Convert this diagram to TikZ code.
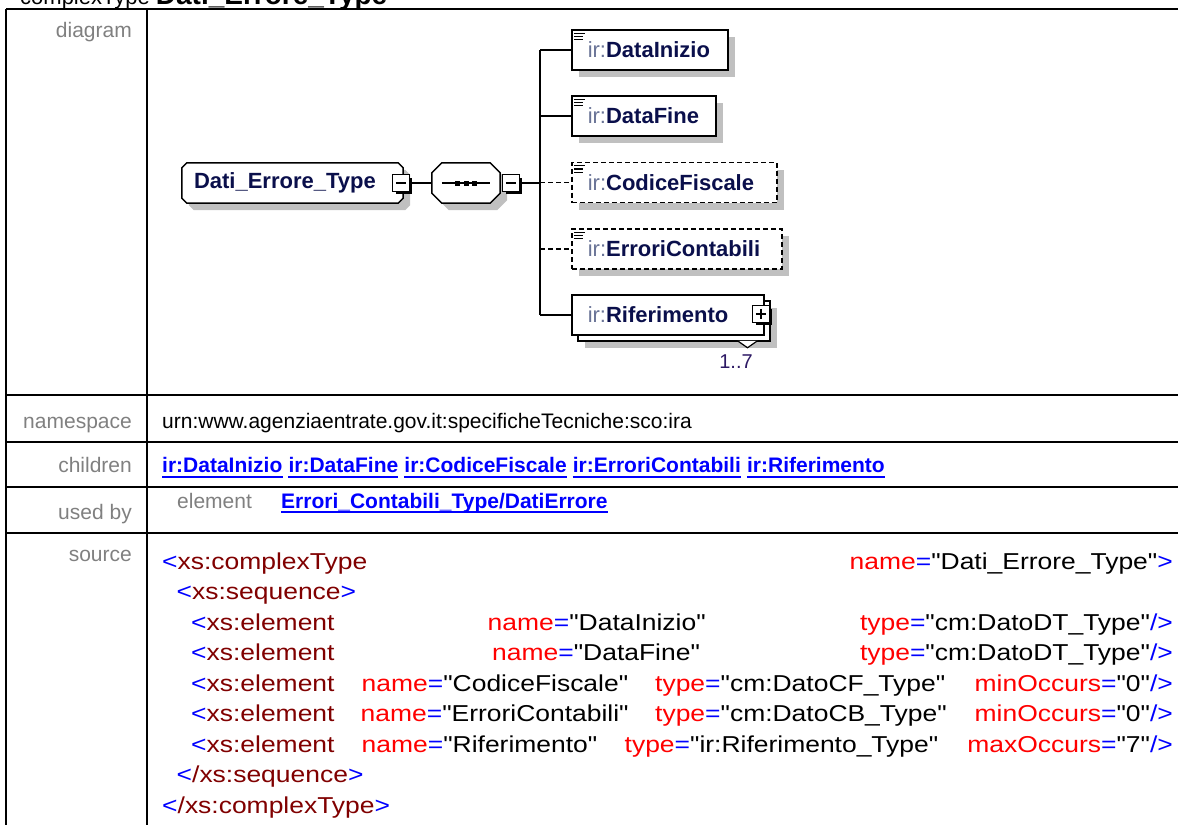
\documentclass[tikz,border=0pt]{standalone}
\usepackage{fontspec}
\setmainfont{Liberation Sans}
\newfontfamily\srcfont[FakeStretch=1.15]{Liberation Sans}
\usepackage{xcolor}
\usetikzlibrary{positioning,shadows,calc,backgrounds}

\definecolor{labelgray}{RGB}{128,128,128}
\definecolor{linkblue}{RGB}{0,0,255}
\definecolor{shadowgray}{RGB}{192,192,192}
\definecolor{pfxcol}{RGB}{105,115,150}
\definecolor{namecol}{RGB}{10,15,75}
\definecolor{occcol}{RGB}{45,25,100}
\definecolor{xblue}{RGB}{0,0,255}
\definecolor{xtag}{RGB}{128,0,0}
\definecolor{xattr}{RGB}{255,0,0}

\newcommand\pfx[1]{\textcolor{pfxcol}{#1}}
\newcommand\nm[1]{\textcolor{namecol}{\bfseries #1}}
\newcommand\opn{\textcolor{xblue}{<}}
\newcommand\cls{\textcolor{xblue}{>}}
\newcommand\ecl{\textcolor{xblue}{/>}}
\newcommand\tg[1]{\textcolor{xtag}{#1}}
\newcommand\attv[2]{\textcolor{xattr}{#1}\textcolor{xblue}{=}"#2"}
% octagon round a named node: #1 node, #2 cut
\newcommand\octpath[2]{([yshift=-#2]#1.north west) -- ([xshift=#2]#1.north west) -- ([xshift=-#2]#1.north east) -- ([yshift=-#2]#1.north east) -- ([yshift=#2]#1.south east) -- ([xshift=-#2]#1.south east) -- ([xshift=#2]#1.south west) -- ([yshift=#2]#1.south west) -- cycle}

\tikzset{
  rowline/.style={line width=2pt},
  lbl/.style={anchor=base east, inner sep=0pt, text=labelgray, font=\fontsize{21}{24}\selectfont},
  txt/.style={anchor=base west, inner sep=0pt, font=\fontsize{21}{24}\selectfont},
  lnk/.style={txt, text=linkblue, font=\fontsize{21}{24}\selectfont\bfseries},
  ulink/.style={draw=linkblue, line width=2pt},
  src/.style={anchor=base west, inner sep=0pt, font=\srcfont\fontsize{23}{26}\selectfont},
  srcr/.style={src, anchor=base east},
  conn/.style={line width=1.5pt},
  optconn/.style={conn, dash pattern=on 5pt off 3pt},
  greyshadow/.style={drop shadow={shadow xshift=7pt, shadow yshift=-7pt, fill=shadowgray, opacity=1}},
  elembase/.style={draw, fill=white, line width=1.5pt, anchor=west, minimum height=40pt,
    inner xsep=16pt, inner ysep=0pt, align=left, font=\fontsize{22}{26}\selectfont},
  elem/.style={elembase, greyshadow},
  optelem/.style={elem, line width=1.6pt, dash pattern=on 5pt off 3pt},
  multielem/.style={elembase, drop shadow={shadow xshift=13pt, shadow yshift=-13pt, fill=shadowgray, opacity=1},
    copy shadow={shadow xshift=6pt, shadow yshift=-6pt}},
  typebox/.style={minimum width=221pt, minimum height=40pt, inner xsep=12pt, inner ysep=0pt, align=left,
    text width=197pt, font=\fontsize{22}{26}\selectfont},
  seqbox/.style={minimum width=68pt, minimum height=40pt, inner sep=0pt},
  octline/.style={draw, fill=white, line width=1.5pt, greyshadow},
  mbox/.style={draw, fill=white, line width=1.4pt, minimum size=16.5pt, inner sep=0pt,
    drop shadow={shadow xshift=3pt, shadow yshift=-3pt, fill=black, opacity=1},
    path picture={\draw[line width=1.5pt] ([xshift=3pt]path picture bounding box.west) -- ([xshift=-3pt]path picture bounding box.east);}},
  pbox/.style={mbox,
    path picture={\draw[line width=1.5pt] ([xshift=3pt]path picture bounding box.west) -- ([xshift=-3pt]path picture bounding box.east);
      \draw[line width=1.5pt] ([yshift=-3pt]path picture bounding box.north) -- ([yshift=3pt]path picture bounding box.south);}},
}

\begin{document}
\begin{tikzpicture}[x=1pt,y=-1pt]
\useasboundingbox (0,0) rectangle (1178,825);
\clip (0,0) rectangle (1178,825);

% heading, cut at the top
\node[anchor=base west, inner sep=0pt, font=\fontsize{22}{26}\selectfont] (title) at (20,4) {complexType \textbf{\fontsize{28}{30}\selectfont Dati\_Errore\_Type}};

% table grid
\foreach \y in {9,395,442,487,533}
  \draw[rowline] (6,\y) -- (1178,\y);
\draw[rowline] (6,9) -- (6,825);
\draw[rowline] (147,9) -- (147,825);

% row labels
\node[lbl] (ldiag) at (132,37) {diagram};
\node[lbl] (lns) at (132,428) {namespace};
\node[lbl] (lch) at (132,472) {children};
\node[lbl] (lused) at (132,519) {used by};
\node[lbl] (lsrc) at (132,561) {source};

% diagram: type, sequence, children
\node[typebox] (type) at (292.5,183) {\nm{Dati\_Errore\_Type}};
\node[seqbox] (seq) at (466,183) {};
\begin{scope}[on background layer]
  \draw[octline] \octpath{type}{5pt};
  \draw[octline] \octpath{seq}{10pt};
\end{scope}
\node[mbox] (tmin) at (401,183) {};
\node[mbox] (smin) at (511,183) {};
\draw[line width=1.4pt] ([xshift=10pt]seq.west) -- ([xshift=-10pt]seq.east);
\foreach \dx in {-8.5,0,8.5}
  \fill ([xshift=\dx pt]seq.center) +(-2.5,-2.5) rectangle +(2.5,2.5);

\node[elem, text width=124pt] (e1) at (571,50) {\pfx{ir:}\nm{DataInizio}};
\node[elem, text width=112pt] (e2) at (571,116) {\pfx{ir:}\nm{DataFine}};
\node[optelem, text width=173pt] (e3) at (571,182.5) {\pfx{ir:}\nm{CodiceFiscale}};
\node[optelem, text width=178pt] (e4) at (571,249) {\pfx{ir:}\nm{ErroriContabili}};
\node[multielem, text width=160pt] (e5) at (571,315) {\pfx{ir:}\nm{Riferimento}};
\node[pbox] (rplus) at (761,314) {};

% element icons
\foreach \n in {e1,e2,e3,e4}
  \foreach \k/\len in {0/11,1/9,2/9}
    \draw[line width=1.1pt] ([xshift=3pt,yshift={-(4+3.3*\k)*1pt}]\n.north west) -- ++(\len,0);

% occurrence of Riferimento
\draw[line width=1.2pt, fill=white] ($(e5.south east)+(-27,5)$) -- ++(10,7) -- ++(10,-7);
\node[inner sep=0pt, text=occcol, font=\fontsize{20}{22}\selectfont] (occ) at (736,362) {1..7};

% connectors
\coordinate (trunk) at (540,183);
\draw[conn] (tmin.east) -- (seq.west);
\draw[conn] (smin.east) -- (trunk);
\draw[conn] (trunk |- e1.west) -- (trunk |- e5.west);
\draw[conn] (trunk |- e1.west) -- (e1.west);
\draw[conn] (trunk |- e2.west) -- (e2.west);
\draw[optconn] (trunk |- e3.west) -- (e3.west);
\draw[optconn] (trunk |- e4.west) -- (e4.west);
\draw[conn] (trunk |- e5.west) -- (e5.west);

% namespace
\node[txt] (ns) at (162,428) {urn:www.agenziaentrate.gov.it:specificheTecniche:sco:ira};

% children
\node[lnk] (c1) at (162,472) {ir:DataInizio};
\node[lnk, right=5.8pt of c1.base east, anchor=base west] (c2) {ir:DataFine};
\node[lnk, right=5.8pt of c2.base east, anchor=base west] (c3) {ir:CodiceFiscale};
\node[lnk, right=5.8pt of c3.base east, anchor=base west] (c4) {ir:ErroriContabili};
\node[lnk, right=5.8pt of c4.base east, anchor=base west] (c5) {ir:Riferimento};
\foreach \c in {c1,c2,c3,c4,c5}
  \draw[ulink] ([yshift=-4.5pt]\c.base west) -- ([yshift=-4.5pt]\c.base east);

% used by
\node[txt, text=labelgray] (uel) at (177,508) {element};
\node[lnk] (u1) at (281,508) {Errori\_Contabili\_Type/DatiErrore};
\draw[ulink] ([yshift=-4pt]u1.base west) -- ([yshift=-4pt]u1.base east);

% source
\node[src] (s1a) at (162,569) {\opn\tg{xs:complexType}};
\node[srcr] (s1b) at (1173,569) {\attv{name}{Dati\_Errore\_Type}\cls};
\node[src] (s2) at (176.5,599.5) {\opn\tg{xs:sequence}\cls};
\node[src] (s3a) at (191,630) {\opn\tg{xs:element}};
\node[src] (s3b) at (487.5,630) {\attv{name}{DataInizio}};
\node[srcr] (s3c) at (1173,630) {\attv{type}{cm:DatoDT\_Type}\ecl};
\node[src] (s4a) at (191,660.5) {\opn\tg{xs:element}};
\node[src] (s4b) at (492,660.5) {\attv{name}{DataFine}};
\node[srcr] (s4c) at (1173,660.5) {\attv{type}{cm:DatoDT\_Type}\ecl};
\node[src] (s5a) at (191,691) {\opn\tg{xs:element}};
\node[src] (s5b) at (361.5,691) {\attv{name}{CodiceFiscale}};
\node[src] (s5c) at (655,691) {\attv{type}{cm:DatoCF\_Type}};
\node[srcr] (s5d) at (1173,691) {\attv{minOccurs}{0}\ecl};
\node[src] (s6a) at (191,721.5) {\opn\tg{xs:element}};
\node[src] (s6b) at (360.5,721.5) {\attv{name}{ErroriContabili}};
\node[src] (s6c) at (655,721.5) {\attv{type}{cm:DatoCB\_Type}};
\node[srcr] (s6d) at (1173,721.5) {\attv{minOccurs}{0}\ecl};
\node[src] (s7a) at (191,752) {\opn\tg{xs:element}};
\node[src] (s7b) at (361.5,752) {\attv{name}{Riferimento}};
\node[src] (s7c) at (624.5,752) {\attv{type}{ir:Riferimento\_Type}};
\node[srcr] (s7d) at (1173,752) {\attv{maxOccurs}{7}\ecl};
\node[src] (s8) at (176.5,782.5) {\opn\tg{/xs:sequence}\cls};
\node[src] (s9) at (162,813) {\opn\tg{/xs:complexType}\cls};

\end{tikzpicture}
\end{document}
